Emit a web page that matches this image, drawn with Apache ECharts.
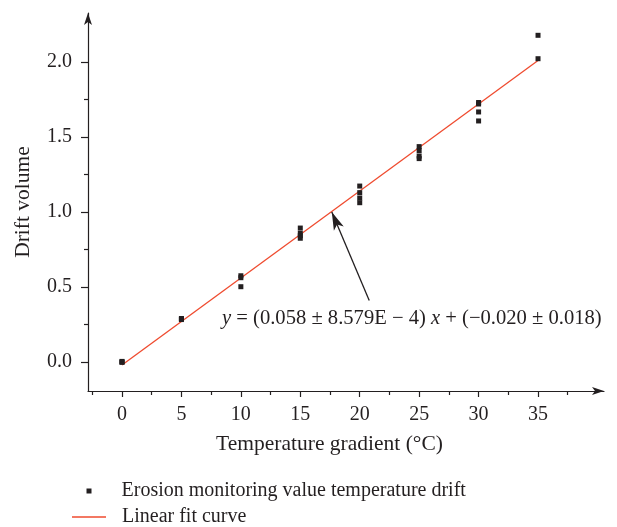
<!DOCTYPE html>
<html>
<head>
<meta charset="utf-8">
<script src="https://cdn.jsdelivr.net/npm/echarts@6.0.0/dist/echarts.min.js"></script>
<style>
  html, body { margin: 0; padding: 0; background: #fff; }
  #chart { width: 617px; height: 527px; }
</style>
</head>
<body>
<div id="chart"></div>
<script>
// drift volume vs temperature gradient, with linear fit
var temps = [0, 0, 0, 5, 5, 5, 10, 10, 10, 15, 15, 15, 15, 20, 20, 20, 20, 25, 25, 25, 25, 30, 30, 30, 30, 35, 35];
var drift = [0.004, 0, -0.002, 0.29, 0.287, 0.283, 0.575, 0.562, 0.502, 0.893, 0.858, 0.842, 0.825,
  1.173, 1.129, 1.093, 1.062, 1.436, 1.409, 1.373, 1.356, 1.73, 1.72, 1.667, 1.607, 2.178, 2.022];
var fitX = [0, 35];
var fitY = [-0.02, 2.01];
var xTicks = [0, 5, 10, 15, 20, 25, 30, 35];
var xMinor = [-2.5, 2.5, 7.5, 12.5, 17.5, 22.5, 27.5, 32.5, 37.5];
var yTicks = [0, 0.5, 1.0, 1.5, 2.0];
var yMinor = [0.25, 0.75, 1.25, 1.75];
var arrowTail = [20.8, 0.41];
var arrowHead = [17.65, 1.0];

var scatterName = 'Erosion monitoring value temperature drift';
var fitName = 'Linear fit curve';
var equation = '{i|y} = (0.058 ± 8.579E − 4) {i|x} + (−0.020 ± 0.018)';

var ink = '#231f20';
var red = '#ef4b2f';
var font = 'Liberation Serif';

var chart = echarts.init(document.getElementById('chart'));

var points = temps.map(function (t, i) { return [t, drift[i]]; });
var fitLine = fitX.map(function (t, i) { return [t, fitY[i]]; });

var xRange = { min: -2.86, max: 40.55 };
var yRange = { min: -0.1933, max: 2.3267 };

var option = {
  backgroundColor: '#fff',
  animation: false,
  textStyle: { fontFamily: font, color: ink },
  grid: { left: 88, right: 13, top: 13, bottom: 136 },
  xAxis: [
    {
      type: 'value',
      position: 'bottom',
      min: xRange.min,
      max: xRange.max,
      name: 'Temperature gradient (°C)',
      nameLocation: 'middle',
      nameGap: 42,
      nameTextStyle: { fontFamily: font, fontSize: 21.5, color: ink, padding: [0, 33, 0, 0] },
      splitLine: { show: false },
      axisLine: {
        onZero: false,
        lineStyle: { color: ink, width: 1.2 },
        symbol: ['none', 'arrow'],
        symbolSize: [6, 12]
      },
      axisTick: { customValues: xTicks, length: 6, lineStyle: { color: ink, width: 1.2 } },
      axisLabel: { customValues: xTicks, margin: 14, fontFamily: font, fontSize: 20, color: ink }
    },
    {
      type: 'value',
      position: 'bottom',
      min: xRange.min,
      max: xRange.max,
      splitLine: { show: false },
      axisLine: { show: false, onZero: false },
      axisTick: { customValues: xMinor, length: 4, lineStyle: { color: ink, width: 1.2 } },
      axisLabel: { show: false }
    }
  ],
  yAxis: [
    {
      type: 'value',
      position: 'left',
      min: yRange.min,
      max: yRange.max,
      name: 'Drift volume',
      nameLocation: 'middle',
      nameGap: 54,
      nameTextStyle: { fontFamily: font, fontSize: 21.5, color: ink },
      splitLine: { show: false },
      axisLine: {
        onZero: false,
        lineStyle: { color: ink, width: 1.2 },
        symbol: ['none', 'arrow'],
        symbolSize: [6, 12]
      },
      axisTick: { customValues: yTicks, length: 7, lineStyle: { color: ink, width: 1.2 } },
      axisLabel: {
        customValues: yTicks,
        margin: 16,
        fontFamily: font,
        fontSize: 20,
        color: ink,
        formatter: function (v) { return v.toFixed(1); }
      }
    },
    {
      type: 'value',
      position: 'left',
      min: yRange.min,
      max: yRange.max,
      splitLine: { show: false },
      axisLine: { show: false, onZero: false },
      axisTick: { customValues: yMinor, length: 4, lineStyle: { color: ink, width: 1.2 } },
      axisLabel: { show: false }
    }
  ],
  legend: [
    {
      data: [{ name: scatterName, icon: 'rect', itemStyle: { color: ink, opacity: 1 } }],
      left: 86.5,
      top: 481,
      padding: 0,
      itemWidth: 5,
      itemHeight: 5,
      textStyle: { fontFamily: font, fontSize: 20, color: ink, padding: [0, 0, 0, 25] }
    },
    {
      data: [{ name: fitName, icon: 'rect', itemStyle: { color: red } }],
      left: 72,
      top: 507,
      padding: 0,
      itemWidth: 34,
      itemHeight: 1.5,
      textStyle: { fontFamily: font, fontSize: 20, color: ink, padding: [0, 0, 0, 11] }
    }
  ],
  graphic: [
    {
      type: 'text',
      left: 222,
      top: 308,
      style: {
        text: equation,
        fontFamily: font,
        fontSize: 20.6,
        fill: ink,
        rich: {
          i: { fontFamily: font, fontSize: 20.6, fontStyle: 'italic', fill: ink }
        }
      }
    }
  ],
  series: [
    {
      name: fitName,
      type: 'line',
      data: fitLine,
      showSymbol: false,
      symbol: 'none',
      z: 2,
      lineStyle: { color: red, width: 1.3 },
      itemStyle: { color: red },
      markLine: {
        silent: true,
        symbol: ['none', 'arrow'],
        symbolSize: [8, 18],
        label: { show: false },
        lineStyle: { color: ink, width: 1.3, type: 'solid' },
        data: [[{ coord: arrowTail }, { coord: arrowHead }]]
      }
    },
    {
      name: scatterName,
      type: 'scatter',
      data: points,
      symbol: 'rect',
      symbolSize: 5,
      z: 3,
      itemStyle: { color: ink, opacity: 1 }
    }
  ]
};

chart.setOption(option);
</script>
</body>
</html>
